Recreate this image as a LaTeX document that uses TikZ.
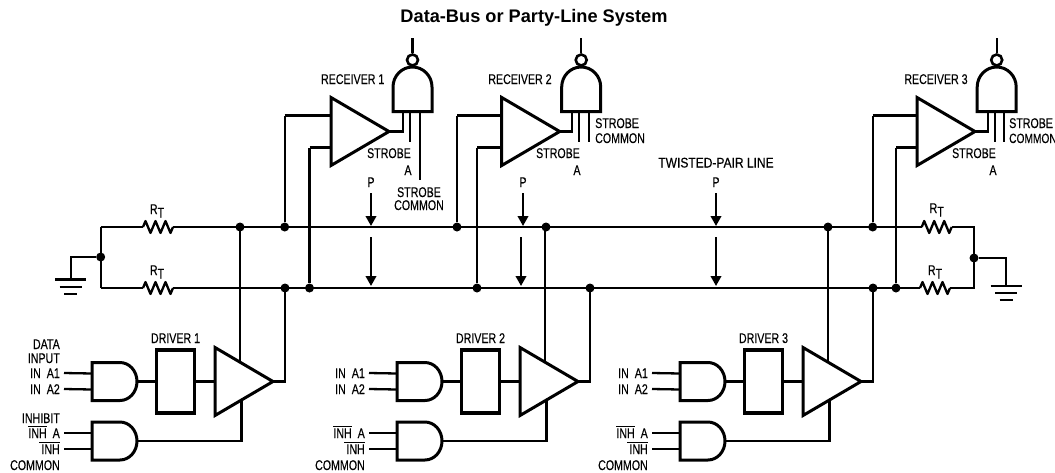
\documentclass[tikz,border=0pt]{standalone}
\usepackage{fontspec}
\setmainfont{Liberation Sans}
\newfontfamily\lblfont[FakeStretch=0.76,FakeBold=0.25]{Liberation Sans}
\usetikzlibrary{arrows.meta}
\newcommand{\ovl}[1]{\leavevmode\vbox{\hrule height .9pt \kern 1.2pt\hbox{#1}}}
\tikzset{
  x=1pt,y=-1pt,
  wire/.style={line width=2.3pt,line cap=butt,line join=miter},
  gate/.style={line width=3pt,line join=miter,fill=white},
  lbl/.style={font=\lblfont\fontsize{14}{14}\selectfont,inner sep=0pt,text height=10pt,text depth=0pt},
  dot/.style={circle,fill=black,inner sep=0pt,minimum size=9pt},
  drvbox/.style={draw,line width=3.2pt,minimum width=38pt,minimum height=63pt,inner sep=0pt},
  parrow/.style={line width=2.2pt,-{Triangle[width=10.5pt,length=10pt]}},
}
% AND gate: #1 name, #2 x of flat side, #3 y centre
\newcommand{\andgate}[3]{%
  \begin{scope}[shift={(#2,#3)}]
    \draw[gate] (0,-19) -- (28,-19) .. controls (37.4,-19) and (45,-10.5) .. (45,0)
      .. controls (45,10.5) and (37.4,19) .. (28,19) -- (0,19) -- cycle;
    \coordinate (#1-a) at (0,-8);
    \coordinate (#1-b) at (0,8);
    \coordinate (#1-o) at (45,0);
  \end{scope}}
% amplifier triangle: #1 name, #2 x of flat side, #3 y of tip
\newcommand{\amp}[3]{%
  \begin{scope}[shift={(#2,#3)}]
    \draw[gate] (0,-34) -- (58,0) -- (0,34) -- cycle;
    \coordinate (#1-in) at (0,0);
    \coordinate (#1-o) at (58,0);
    \coordinate (#1-p) at (0,-16);
    \coordinate (#1-m) at (0,16);
  \end{scope}}
% NAND, vertical: #1 name, #2 centre x
\newcommand{\nandgate}[2]{%
  \begin{scope}[shift={(#2,0)}]
    \draw[gate] (-19.5,111.7) -- (-19.5,87) .. controls (-19.5,76) and (-10.8,67) .. (0,67)
      .. controls (10.8,67) and (19.5,76) .. (19.5,87) -- (19.5,111.7) -- cycle;
    \node[circle,draw,line width=2.6pt,fill=white,minimum size=11pt,inner sep=0pt] (#1-b) at (0,60) {};
    \coordinate (#1-top) at (0,38);
    \draw[wire] (#1-b.north) -- (#1-top);
  \end{scope}}
% resistor: #1 name, #2 x of left end, #3 y
\newcommand{\resistor}[3]{%
  \begin{scope}[shift={(#2,#3)}]
    \coordinate (#1-l) at (0,0);
    \coordinate (#1-r) at (30,0);
    \draw[wire,line join=round] (#1-l) -- (2.5,-6) -- (7.5,6) -- (12.5,-6) -- (17.5,6) -- (22.5,-6) -- (27.5,6) -- (#1-r);
  \end{scope}}
% ground: #1 name, #2 x, #3 y of first bar
\newcommand{\groundsym}[3]{%
  \coordinate (#1) at (#2,#3);
  \begin{scope}[shift={(#2,#3)}]
    \draw[line width=2.3pt] (-15.5,0) -- (15.5,0);
    \draw[line width=2.3pt] (-11,7.3) -- (11,7.3);
    \draw[line width=2.3pt] (-6.5,14.6) -- (6.5,14.6);
  \end{scope}}
% driver: #1 index, #2 x offset, #3 top bus dot, #4 bottom bus dot
\newcommand{\driverblock}[4]{%
  \begin{scope}[xshift=#2pt]
    \andgate{ga#1}{92}{381.5}
    \andgate{gb#1}{92}{441}
    \node[drvbox] (box#1) at (175.5,381.5) {};
    \amp{tri#1}{215}{381.5}
    \coordinate (ia1#1) at (64,373);
    \coordinate (ia2#1) at (64,389);
    \coordinate (ib1#1) at (64,433);
    \coordinate (ib2#1) at (64,449);
    \node[lbl] at (175.5,338) {DRIVER #1};
    \node[lbl,anchor=east] at (60,373) {IN\hspace{3pt} A1};
    \node[lbl,anchor=east] at (60,389) {IN\hspace{3pt} A2};
    \node[lbl,anchor=east] at (60,433) {\ovl{INH}\hspace{3pt} A};
    \node[lbl,anchor=east] at (60,449) {\ovl{\,INH}};
    \node[lbl,anchor=east] at (60,465) {COMMON};
    \coordinate (rise#1) at (240,362.6);
    \coordinate (low#1) at (241.5,401);
    \coordinate (lowc#1) at (241.5,441);
    \coordinate (outc#1) at (285,381.5);
  \end{scope}
  \draw[wire] (ia1#1) -- (ga#1-a);
  \draw[wire] (ia2#1) -- (ga#1-b);
  \draw[wire] (ib1#1) -- (gb#1-a);
  \draw[wire] (ib2#1) -- (gb#1-b);
  \draw[wire] (ga#1-o) -- (box#1.west);
  \draw[wire] (box#1.east) -- (tri#1-in);
  \draw[wire] (rise#1) -- (rise#1|-#3);
  \draw[wire] (tri#1-o) -- (outc#1) -- (outc#1|-#4);
  \draw[wire] (gb#1-o) -- (lowc#1) -- (low#1);
}
% receiver: #1 index, #2 amp x, #3 nand centre, #4 amp-out line x, #5 top bus dot, #6 bottom bus dot
\newcommand{\receiverblock}[6]{%
  \nandgate{ng#1}{#3}
  \amp{ra#1}{#2}{131.5}
  \coordinate (rc#1) at (#4,131.5);
  \draw[wire] (ra#1-o) -- (rc#1) -- (#4,111.7);
  \draw[wire] (#5|-ra#1-p) -- (ra#1-p);
  \draw[wire] (#5) -- (#5|-ra#1-p);
  \draw[wire] (#6|-ra#1-m) -- (ra#1-m);
  \draw[wire] (#6) -- (#6|-ra#1-m);
}
\begin{document}
\begin{tikzpicture}
\useasboundingbox (0,0) rectangle (1055,472);

\node[font=\bfseries\fontsize{18.2}{19}\selectfont,inner sep=0pt,anchor=base] (title) at (534,22.7) {Data-Bus or Party-Line System};

% bus dots
\node[dot] (t1) at (240,227) {};
\node[dot] (t2) at (284.7,227) {};
\node[dot] (t3) at (457,227) {};
\node[dot] (t4) at (546,227) {};
\node[dot] (t5) at (828,227) {};
\node[dot] (t6) at (872.7,227) {};
\node[dot] (b1) at (285,288) {};
\node[dot] (b2) at (309.5,288) {};
\node[dot] (b3) at (477,288) {};
\node[dot] (b4) at (590,288) {};
\node[dot] (b5) at (873,288) {};
\node[dot] (b6) at (896,288) {};
\node[dot] (jl) at (100.7,257) {};
\node[dot] (jr) at (974,258) {};

% terminations
\resistor{r1}{143}{227}
\resistor{r2}{143}{288}
\resistor{r3}{921.7}{227}
\resistor{r4}{920}{288}
\node[lbl] at (157,209) {R\raisebox{-3.5pt}{T}};
\node[lbl] at (157,270) {R\raisebox{-3.5pt}{T}};
\node[lbl] at (936.7,208) {R\raisebox{-3.5pt}{T}};
\node[lbl] at (935,270) {R\raisebox{-3.5pt}{T}};

\groundsym{gl}{70.7}{279.5}
\groundsym{gr}{1006}{285.7}

\draw[wire] (jl|-r1-l) -- (r1-l);
\draw[wire] (jl|-r2-l) -- (r2-l);
\draw[wire] (jl|-r1-l) -- (jl|-r2-l);
\draw[wire] (r3-r) -- (jr|-r3-r) -- (jr|-r4-r) -- (r4-r);
\draw[wire] (jl) -- (gl|-jl) -- (gl);
\draw[wire] (jr) -- (gr|-jr) -- (gr);
\draw[wire] (r1-r) -- (r3-l);
\draw[wire] (r2-r) -- (r4-l);

% receivers
\receiverblock{1}{331}{412.5}{402.7}{t2}{b2}
\receiverblock{2}{501.7}{581.2}{571.7}{t3}{b3}
\receiverblock{3}{917}{996.7}{987.7}{t6}{b6}

% strobe wires
\draw[wire] (410,111.7) -- (410,142);
\draw[wire] (420,111.7) -- (420,180);
\draw[wire] (579.3,111.7) -- (579.3,142);
\draw[wire] (589.3,111.7) -- (589.3,142);
\draw[wire] (995,111.7) -- (995,142);
\draw[wire] (1004,111.7) -- (1004,142);

\node[lbl] at (352.7,79) {RECEIVER 1};
\node[lbl] at (520,79) {RECEIVER 2};
\node[lbl] at (936,79) {RECEIVER 3};
\node[lbl] at (389,153) {STROBE};
\node[lbl] at (408,170) {A};
\node[lbl] at (419,192) {STROBE};
\node[lbl] at (419,205) {COMMON};
\node[lbl] at (558,153) {STROBE};
\node[lbl] at (577,170) {A};
\node[lbl,anchor=west] at (595,123) {STROBE};
\node[lbl,anchor=west] at (595,138) {COMMON};
\node[lbl] at (974,153) {STROBE};
\node[lbl] at (993,170) {A};
\node[lbl,anchor=west] at (1009,123) {STROBE};
\node[lbl,anchor=west,font=\lblfont\fontsize{13.4}{14}\selectfont] at (1009,138) {COMMON};
\node[lbl] at (716,162.5) {\scalebox{1.13}[1]{TWISTED-PAIR LINE}};

% probe arrows
\node[lbl] (p1) at (371,182) {P};
\node[lbl] (p2) at (523,182) {P};
\node[lbl] (p3) at (716,182) {P};
\coordinate (pt1) at (371,226);
\coordinate (pt2) at (523,226);
\coordinate (pt3) at (716,226);
\draw[parrow] (371,193) -- (pt1);
\draw[parrow] (523,193) -- (pt2);
\draw[parrow] (716,193) -- (pt3);
\coordinate (pb1) at (371,286);
\coordinate (pb2) at (521,286);
\coordinate (pb3) at (716,286);
\draw[parrow] (371,237) -- (pb1);
\draw[parrow] (521,237) -- (pb2);
\draw[parrow] (716,237) -- (pb3);

% drivers
\driverblock{1}{0}{t1}{b1}
\driverblock{2}{305}{t4}{b4}
\driverblock{3}{588}{t5}{b5}

\node[lbl,anchor=east] at (60,344) {DATA};
\node[lbl,anchor=east] at (60,358) {INPUT};
\node[lbl,anchor=east] at (60,418) {INHIBIT};
\end{tikzpicture}
\end{document}
